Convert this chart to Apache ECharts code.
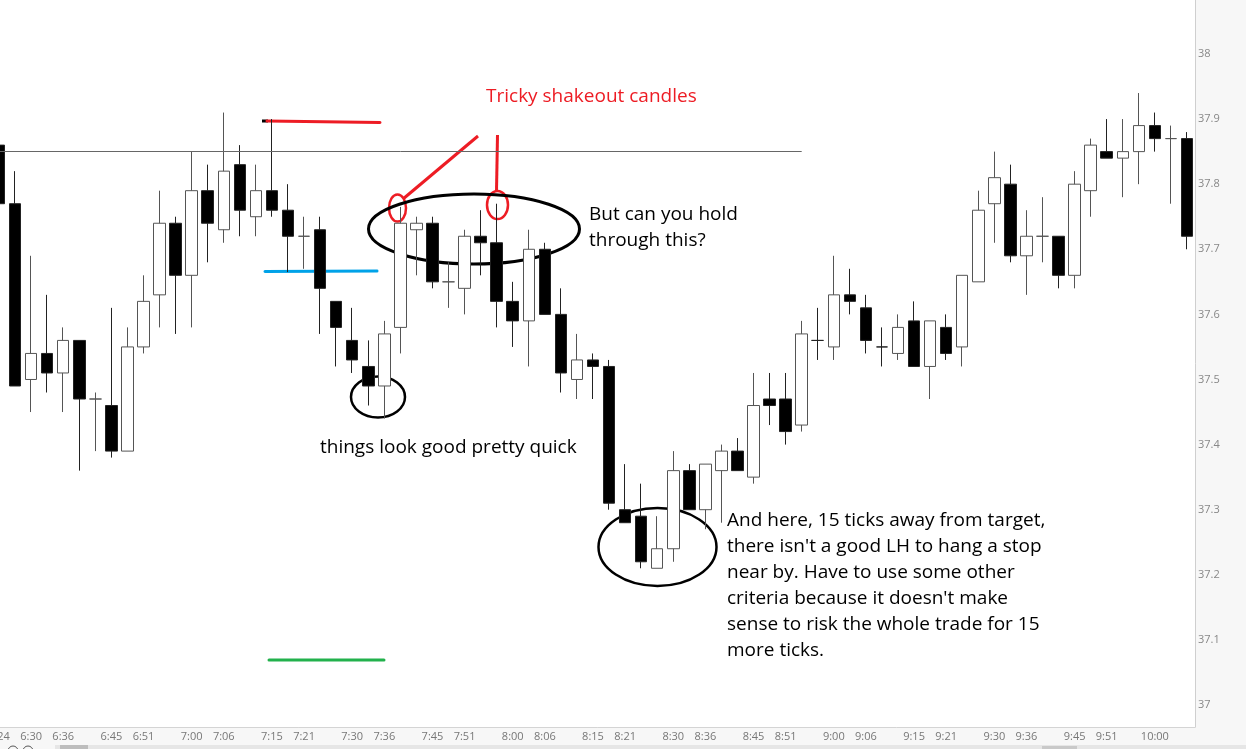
<!DOCTYPE html>
<html>
<head>
<meta charset="utf-8">
<title>Tricky shakeout candles</title>
<script src="https://cdn.jsdelivr.net/npm/echarts@6/dist/echarts.min.js"></script>
<style>
  html, body { margin: 0; padding: 0; background: #fff; }
  #chart { width: 1246px; height: 749px; }
</style>
</head>
<body>
<div id="chart"></div>
<script>
// 3 minute bars, 6:24 - 10:06
const times = [
    '6:24', '6:27', '6:30', '6:33', '6:36', '6:39', '6:42', '6:45', '6:48', '6:51',
    '6:54', '6:57', '7:00', '7:03', '7:06', '7:09', '7:12', '7:15', '7:18', '7:21',
    '7:24', '7:27', '7:30', '7:33', '7:36', '7:39', '7:42', '7:45', '7:48', '7:51',
    '7:54', '7:57', '8:00', '8:03', '8:06', '8:09', '8:12', '8:15', '8:18', '8:21',
    '8:24', '8:27', '8:30', '8:33', '8:36', '8:39', '8:42', '8:45', '8:48', '8:51',
    '8:54', '8:57', '9:00', '9:03', '9:06', '9:09', '9:12', '9:15', '9:18', '9:21',
    '9:24', '9:27', '9:30', '9:33', '9:36', '9:39', '9:42', '9:45', '9:48', '9:51',
    '9:54', '9:57', '10:00', '10:03', '10:06'
]
const openVals = [
    37.86, 37.77, 37.50, 37.54, 37.51, 37.56, 37.47, 37.46, 37.39, 37.55,
    37.63, 37.74, 37.66, 37.79, 37.73, 37.83, 37.75, 37.79, 37.76, 37.72,
    37.73, 37.62, 37.56, 37.52, 37.49, 37.58, 37.73, 37.74, 37.65, 37.64,
    37.72, 37.71, 37.62, 37.59, 37.70, 37.60, 37.50, 37.53, 37.52, 37.30,
    37.29, 37.21, 37.24, 37.36, 37.30, 37.36, 37.39, 37.35, 37.47, 37.47,
    37.43, 37.56, 37.55, 37.63, 37.61, 37.55, 37.54, 37.59, 37.52, 37.58,
    37.55, 37.65, 37.77, 37.80, 37.69, 37.72, 37.72, 37.66, 37.79, 37.85,
    37.84, 37.85, 37.89, 37.87, 37.87
]
const closeVals = [
    37.77, 37.49, 37.54, 37.51, 37.56, 37.47, 37.47, 37.39, 37.55, 37.62,
    37.74, 37.66, 37.79, 37.74, 37.82, 37.76, 37.79, 37.76, 37.72, 37.72,
    37.64, 37.58, 37.53, 37.49, 37.57, 37.74, 37.74, 37.65, 37.65, 37.72,
    37.71, 37.62, 37.59, 37.70, 37.60, 37.51, 37.53, 37.52, 37.31, 37.28,
    37.22, 37.24, 37.36, 37.30, 37.37, 37.39, 37.36, 37.46, 37.46, 37.42,
    37.57, 37.56, 37.63, 37.62, 37.56, 37.55, 37.58, 37.52, 37.59, 37.54,
    37.66, 37.76, 37.81, 37.69, 37.72, 37.72, 37.66, 37.80, 37.86, 37.84,
    37.85, 37.89, 37.87, 37.87, 37.72
]
const lowVals = [
    37.76, 37.49, 37.45, 37.48, 37.45, 37.36, 37.39, 37.38, 37.39, 37.54,
    37.58, 37.57, 37.58, 37.68, 37.71, 37.72, 37.72, 37.75, 37.665, 37.67,
    37.57, 37.52, 37.51, 37.46, 37.44, 37.54, 37.66, 37.64, 37.61, 37.60,
    37.66, 37.58, 37.55, 37.52, 37.60, 37.48, 37.47, 37.47, 37.30, 37.28,
    37.21, 37.21, 37.22, 37.30, 37.27, 37.28, 37.36, 37.34, 37.43, 37.40,
    37.42, 37.53, 37.53, 37.60, 37.54, 37.52, 37.53, 37.52, 37.47, 37.53,
    37.52, 37.65, 37.71, 37.68, 37.63, 37.68, 37.64, 37.64, 37.75, 37.84,
    37.78, 37.80, 37.85, 37.77, 37.70
]
const highVals = [
    37.88, 37.82, 37.69, 37.63, 37.58, 37.56, 37.48, 37.61, 37.58, 37.66,
    37.79, 37.75, 37.85, 37.83, 37.91, 37.86, 37.83, 37.90, 37.80, 37.75,
    37.75, 37.62, 37.61, 37.56, 37.59, 37.765, 37.75, 37.75, 37.68, 37.73,
    37.76, 37.77, 37.65, 37.73, 37.71, 37.64, 37.57, 37.54, 37.53, 37.37,
    37.34, 37.29, 37.39, 37.37, 37.37, 37.40, 37.41, 37.51, 37.51, 37.51,
    37.59, 37.61, 37.69, 37.67, 37.63, 37.58, 37.60, 37.62, 37.59, 37.60,
    37.66, 37.79, 37.85, 37.83, 37.76, 37.78, 37.72, 37.82, 37.87, 37.90,
    37.90, 37.94, 37.91, 37.89, 37.88
]
// labels shown under the chart
const timeLabels = [
    '6:24', '6:30', '6:36', '6:45', '6:51', '7:00', '7:06', '7:15', '7:21', '7:30',
    '7:36', '7:45', '7:51', '8:00', '8:06', '8:15', '8:21', '8:30', '8:36', '8:45',
    '8:51', '9:00', '9:06', '9:15', '9:21', '9:30', '9:36', '9:45', '9:51', '10:00'
]
const priceTicks = [37, 37.1, 37.2, 37.3, 37.4, 37.5, 37.6, 37.7, 37.8, 37.9, 38]
const levelLine = 37.851 // thin resistance line

const paintRed = '#ed1c24'
const paintBlue = '#00a2e8'
const paintGreen = '#22b14c'
const textFont = '19px "Open Sans", sans-serif'

// echarts wants [open, close, low, high]
const candles = times.map((t, i) => [openVals[i], closeVals[i], lowVals[i], highVals[i]])

const chart = echarts.init(document.getElementById('chart'), null, { renderer: 'canvas' })

const option = {
    animation: false,
    backgroundColor: '#f7f7f7',
    grid: {
        left: -9,
        right: 51,
        top: 0,
        bottom: 22,
        outerBoundsMode: 'none',
        containLabel: false,
        show: true,
        backgroundColor: '#fff',
        borderWidth: 0
    },
    xAxis: {
        type: 'category',
        data: times,
        boundaryGap: true,
        axisLine: { show: true, lineStyle: { color: '#d4d4d4' } },
        axisTick: { show: false },
        axisLabel: {
            color: '#777',
            fontSize: 11,
            fontFamily: '"Open Sans", sans-serif',
            margin: 4,
            interval: (idx, val) => timeLabels.includes(val)
        },
        splitLine: { show: false }
    },
    yAxis: {
        type: 'value',
        position: 'right',
        min: 36.9662,
        max: 38.0829,
        axisLine: { show: true, lineStyle: { color: '#cfcfcf' } },
        axisTick: { show: false },
        splitLine: { show: false },
        axisLabel: {
            customValues: priceTicks,
            color: '#888',
            fontSize: 11,
            fontFamily: '"Open Sans", sans-serif',
            margin: 3,
            formatter: v => String(+v.toFixed(1))
        }
    },
    series: [
        {
            type: 'candlestick',
            data: candles,
            barWidth: 12,
            itemStyle: {
                color: '#fff',
                color0: '#000',
                borderColor: '#555',
                borderColor0: '#222',
                borderWidth: 1
            },
            markLine: {
                silent: true,
                symbol: 'none',
                label: { show: false },
                lineStyle: { color: '#666', width: 1, type: 'solid' },
                data: [[{ coord: [0, levelLine] }, { coord: [50, levelLine] }]]
            }
        }
    ],
    graphic: [
        // hand drawn levels
        { type: 'line', shape: { x1: 262, y1: 121, x2: 268, y2: 121 }, style: { stroke: '#000', lineWidth: 3 } },
        { type: 'line', shape: { x1: 267, y1: 121, x2: 380, y2: 122.5 }, style: { stroke: paintRed, lineWidth: 3, lineCap: 'round' } },
        { type: 'line', shape: { x1: 265, y1: 271.5, x2: 377, y2: 271 }, style: { stroke: paintBlue, lineWidth: 3, lineCap: 'round' } },
        { type: 'line', shape: { x1: 269, y1: 660, x2: 384, y2: 660 }, style: { stroke: paintGreen, lineWidth: 3, lineCap: 'round' } },
        // red callout
        { type: 'text', style: { text: 'Tricky shakeout candles', x: 486, y: 97, font: textFont, fill: paintRed, verticalAlign: 'middle' } },
        { type: 'line', shape: { x1: 478, y1: 136, x2: 403, y2: 199 }, style: { stroke: paintRed, lineWidth: 3 } },
        { type: 'line', shape: { x1: 497.5, y1: 135, x2: 496.5, y2: 191 }, style: { stroke: paintRed, lineWidth: 3 } },
        { type: 'ellipse', shape: { cx: 397.5, cy: 208, rx: 8.5, ry: 13.5 }, style: { stroke: paintRed, lineWidth: 2.5, fill: null } },
        { type: 'ellipse', shape: { cx: 497.5, cy: 205, rx: 10.5, ry: 14 }, style: { stroke: paintRed, lineWidth: 2.5, fill: null } },
        // black circles
        { type: 'ellipse', shape: { cx: 474, cy: 229, rx: 105.5, ry: 35 }, style: { stroke: '#000', lineWidth: 3, fill: null } },
        { type: 'ellipse', shape: { cx: 378, cy: 397, rx: 27, ry: 20.5 }, style: { stroke: '#000', lineWidth: 2.5, fill: null } },
        { type: 'ellipse', shape: { cx: 657.5, cy: 547, rx: 59, ry: 39 }, style: { stroke: '#000', lineWidth: 2.5, fill: null } },
        // notes
        { type: 'text', style: { text: 'But can you hold\nthrough this?', x: 589, y: 202, font: textFont, lineHeight: 26, fill: '#000' } },
        { type: 'text', style: { text: 'things look good pretty quick', x: 320, y: 435, font: textFont, lineHeight: 26, fill: '#000' } },
        {
            type: 'text',
            style: {
                text: 'And here, 15 ticks away from target,\nthere isn\'t a good LH to hang a stop\nnear by. Have to use some other\ncriteria because it doesn\'t make\nsense to risk the whole trade for 15\nmore ticks.',
                x: 727, y: 508, font: textFont, lineHeight: 26, fill: '#000'
            }
        },
        // scroll bar strip at the bottom
        { type: 'rect', shape: { x: 55, y: 745, width: 1191, height: 4 }, style: { fill: '#e6e6e6' } },
        { type: 'rect', shape: { x: 60, y: 745, width: 28, height: 4 }, style: { fill: '#bdbdbd' } },
        { type: 'rect', shape: { x: 1042, y: 746, width: 35, height: 3 }, style: { fill: '#c9c9c9' } },
        { type: 'circle', shape: { cx: 13, cy: 751, r: 5 }, style: { stroke: '#555', fill: null, lineWidth: 1 } },
        { type: 'circle', shape: { cx: 28, cy: 751, r: 5 }, style: { stroke: '#555', fill: null, lineWidth: 1 } }
    ]
}

chart.setOption(option)
</script>
</body>
</html>
